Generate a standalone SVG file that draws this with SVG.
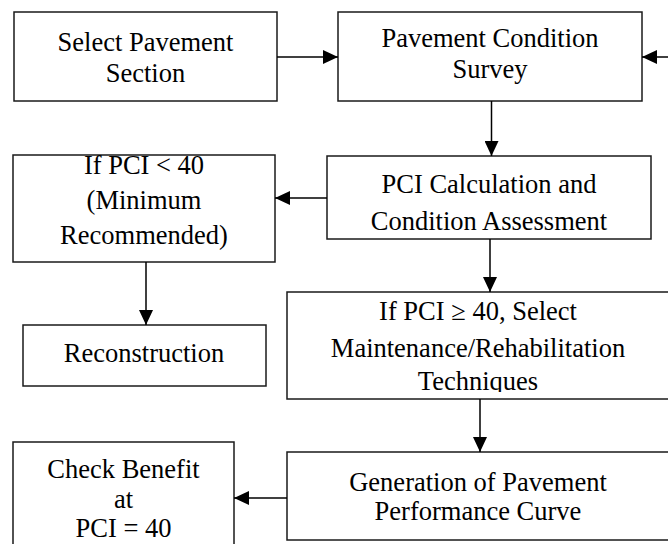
<svg xmlns="http://www.w3.org/2000/svg" width="668" height="544" viewBox="0 0 668 544">
<style>
.box{fill:#fff;stroke:#1a1a1a;stroke-width:1.5}
.t{font-family:"Liberation Serif","Times New Roman",serif;font-size:26.5px;fill:#000;text-anchor:middle}
.c{stroke:#000;stroke-width:1.5;fill:none;marker-end:url(#ah)}
</style>
<defs>
<marker id="ah" markerUnits="userSpaceOnUse" markerWidth="15" markerHeight="14" refX="15" refY="7" orient="auto" viewBox="0 0 15 14">
<path d="M0,0 L15,7 L0,14 z" fill="#000"/>
</marker>
<clipPath id="clip6"><rect x="287" y="292" width="390" height="100"/></clipPath>
</defs>
<rect width="668" height="544" fill="#fff"/>
<g id="n1"><rect class="box" x="14" y="12" width="263" height="89"/>
<text class="t" x="145.5" y="51">Select Pavement</text><text class="t" x="145.5" y="82">Section</text></g>
<g id="n2"><rect class="box" x="338" y="12" width="304" height="89"/>
<text class="t" x="490" y="47">Pavement Condition</text><text class="t" x="490" y="78">Survey</text></g>
<g id="n3"><rect class="box" x="327" y="156" width="324" height="83"/>
<text class="t" x="489" y="193">PCI Calculation and</text><text class="t" x="489" y="230">Condition Assessment</text></g>
<g id="n4"><rect class="box" x="13" y="155" width="262" height="107"/>
<text class="t" x="144" y="174">If PCI &lt; 40</text><text class="t" x="144" y="209">(Minimum</text><text class="t" x="144" y="244">Recommended)</text></g>
<g id="n5"><rect class="box" x="23" y="325" width="243" height="61"/>
<text class="t" x="144" y="362">Reconstruction</text></g>
<g id="n6"><rect class="box" x="287" y="292" width="384" height="107"/>
<g clip-path="url(#clip6)"><text class="t" x="478" y="320">If PCI ≥ 40, Select</text><text class="t" x="478" y="357">Maintenance/Rehabilitation</text><text class="t" x="478" y="390">Techniques</text></g></g>
<g id="n7"><rect class="box" x="287" y="452" width="384" height="88"/>
<text class="t" x="478" y="490.5">Generation of Pavement</text><text class="t" x="478" y="520">Performance Curve</text></g>
<g id="n8"><rect class="box" x="13" y="442" width="221" height="110"/>
<text class="t" x="123.5" y="478">Check Benefit</text><text class="t" x="123.5" y="507.5">at</text><text class="t" x="123.5" y="537">PCI = 40</text></g>
<g id="connectors">
<line class="c" x1="277" y1="57" x2="338" y2="57"/>
<line class="c" x1="668" y1="57" x2="642" y2="57"/>
<line class="c" x1="491.5" y1="101" x2="491.5" y2="156"/>
<line class="c" x1="327" y1="198" x2="275" y2="198"/>
<line class="c" x1="490" y1="239" x2="490" y2="292"/>
<line class="c" x1="146" y1="262" x2="146" y2="325"/>
<line class="c" x1="480" y1="399" x2="480" y2="452"/>
<line class="c" x1="287" y1="498" x2="234" y2="498"/>
</g>
</svg>
